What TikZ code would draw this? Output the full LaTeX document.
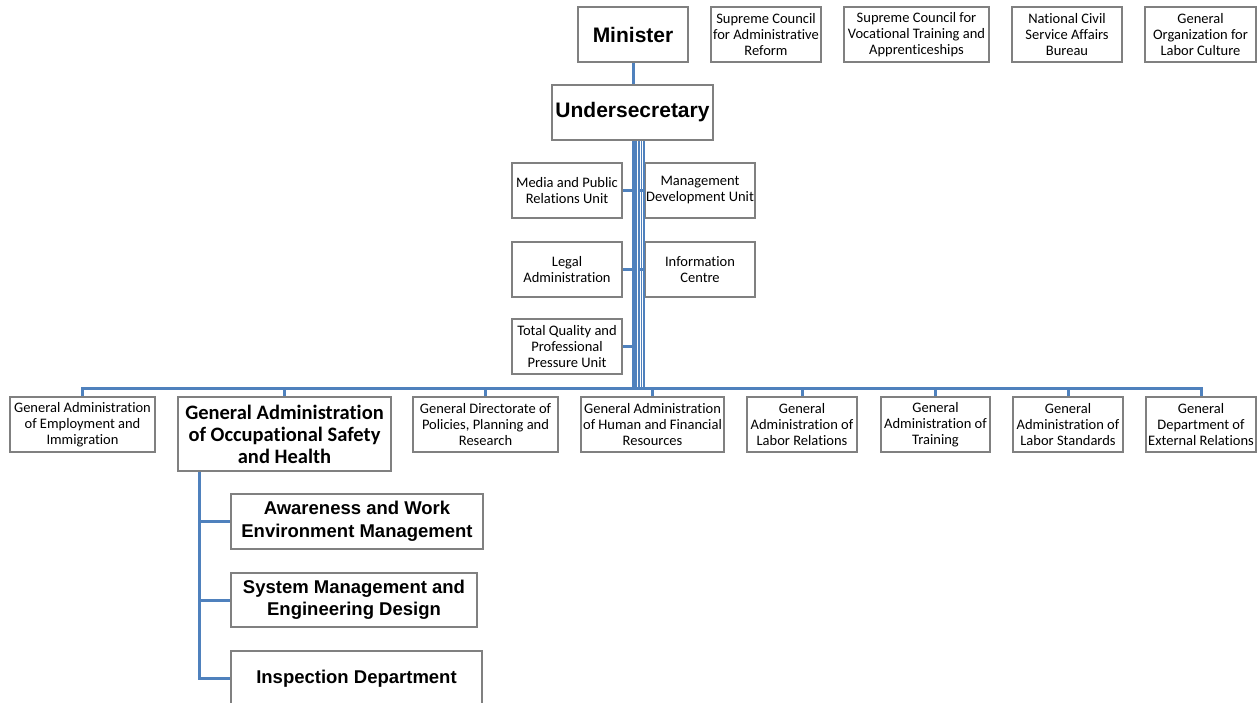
\documentclass[tikz,border=0pt]{standalone}
\usepackage{fontspec}
\setmainfont{Carlito}[Ligatures=CommonOff]
\newfontfamily\headfont{Liberation Sans}
\definecolor{linkblue}{RGB}{79,129,189}
\definecolor{boxgray}{RGB}{128,128,128}
\tikzset{unit/.style={draw=boxgray,line width=1.3pt,fill=white,inner xsep=0pt,inner ysep=1pt,
                      align=center,minimum height=55pt,minimum width=110pt,
                      font=\fontsize{14.5}{16}\selectfont},
         head/.style={unit,font=\headfont\bfseries\fontsize{21}{24}\selectfont},
         office/.style={unit,font=\bfseries\fontsize{20.5}{22}\selectfont},
         section/.style={unit,font=\headfont\bfseries\fontsize{18.5}{22.5}\selectfont},
         link/.style={draw=linkblue,line width=3pt},
         trunk/.style={link,line width=1.9pt}}

\begin{document}
\begin{tikzpicture}[x=1pt,y=-1pt]
\useasboundingbox (0,0) rectangle (1258,703);
% top of the ministry
\node[head] (minister) at (633,34.5) {Minister};
\node[head,minimum width=161pt] (usec) at (632.5,112.5) {Undersecretary};
% councils and bodies attached to the minister
\node[unit] (sca) at (766,34.5) {Supreme Council\\for Administrative\\Reform};
\node[unit,minimum width=145pt] (scv) at (916.5,34.5) {Supreme Council for\\Vocational Training and\\Apprenticeships};
\node[unit] (ncs) at (1067,34.5) {National Civil\\Service Affairs\\Bureau};
\node[unit,minimum width=111pt] (gol) at (1200.5,34.5) {General\\Organization for\\Labor Culture};
% staff units of the undersecretary
\node[unit] (media) at (567,190.5) {Media and Public\\Relations Unit};
\node[unit] (mdu) at (700,190.5) {Management\\Development Unit};
\node[unit] (legal) at (567,269.5) {Legal\\Administration};
\node[unit] (info) at (700,269.5) {Information\\Centre};
\node[unit] (tq) at (567,346.5) {Total Quality and\\Professional\\Pressure Unit};
% general administrations
\node[unit,minimum width=145pt] (emp) at (82.5,424.5) {General Administration\\of Employment and\\Immigration};
\node[office,minimum width=213pt,minimum height=74pt] (osh) at (284.5,434) {General Administration\\of Occupational Safety\\and Health};
\node[unit,minimum width=145pt] (pol) at (485.5,424.5) {General Directorate of\\Policies, Planning and\\Research};
\node[unit,minimum width=143pt] (hum) at (652.5,424.5) {General Administration\\of Human and Financial\\Resources};
\node[unit] (lrel) at (802,424.5) {General\\Administration of\\Labor Relations};
\node[unit,minimum width=109pt] (trn) at (935.5,424.5) {General\\Administration of\\Training};
\node[unit] (lstd) at (1068,424.5) {General\\Administration of\\Labor Standards};
\node[unit] (ext) at (1201,424.5) {General\\Department of\\External Relations};
% departments under occupational safety
\node[section,minimum width=252pt] (aw) at (357,521.5) {Awareness and Work\\Environment Management};
\node[section,minimum width=246pt,minimum height=54pt] (sys) at (354,600) {System Management and\\Engineering Design};
\node[section,minimum width=251pt] (insp) at (356.5,678.5) {Inspection Department};

% connectors
\draw[link] (minister.south) -- (minister.south |- usec.north);
\draw[link,line width=4.5pt] ([xshift=2pt]usec.south) -- ++(0,249);
\foreach \dx in {6.5,9,11.5}
  \draw[trunk] ([xshift=\dx pt]usec.south) -- ++(0,249);
\foreach \staff in {media,legal,tq}
  \draw[link] (\staff.east) -- ++(11,0);
\foreach \staff in {mdu,info}
  \draw[link] (\staff.west) -- ++(-6,0);
\draw[link] (emp.north) -- ++(0,-8) -| (ext.north);
\foreach \dept in {osh,pol,hum,lrel,trn,lstd}
  \draw[link] (\dept.north) -- ++(0,-8);
\foreach \kid in {aw,sys,insp}
  \draw[link] ([xshift=22pt]osh.south west) |- (\kid.west);
\end{tikzpicture}
\end{document}
